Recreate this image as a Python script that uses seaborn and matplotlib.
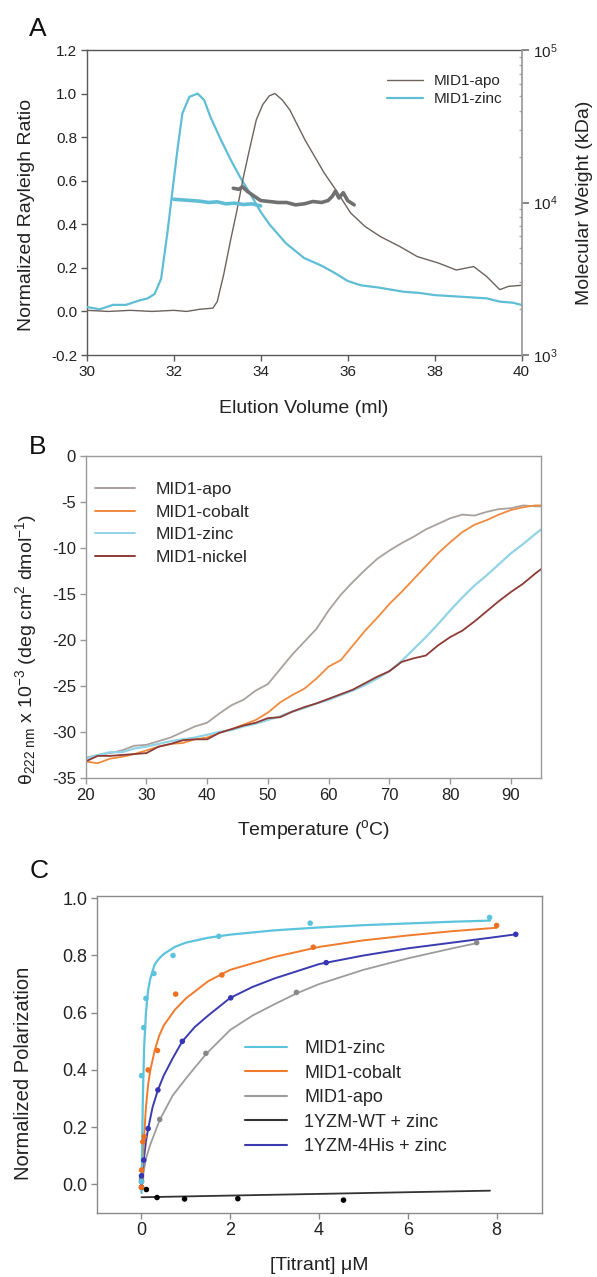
import numpy as np
import pandas as pd
import matplotlib
matplotlib.use("Agg")
import matplotlib.pyplot as plt
import seaborn as sns
from matplotlib.ticker import LogLocator, FixedLocator

# ---------------- Panel A data (SEC-MALS) ----------------
vol_zinc = [30.0, 30.3, 30.6, 30.9, 31.2, 31.4, 31.56, 31.71, 31.86, 31.98, 32.09, 32.2,
            32.36, 32.55, 32.7, 32.85, 33.08, 33.3, 33.53, 33.76, 33.99, 34.2, 34.58, 35.0,
            35.4, 35.7, 36.0, 36.3, 36.7, 37.0, 37.3, 37.65, 38.0, 38.4, 38.8, 39.2, 39.5,
            39.8, 40.0]
ray_zinc = [0.02, 0.01, 0.03, 0.03, 0.05, 0.06, 0.08, 0.15, 0.37, 0.57, 0.75, 0.91,
            0.985, 1.0, 0.97, 0.89, 0.79, 0.70, 0.615, 0.54, 0.46, 0.40, 0.313, 0.245,
            0.21, 0.177, 0.14, 0.12, 0.11, 0.10, 0.09, 0.085, 0.075, 0.07, 0.065, 0.06, 0.045,
            0.04, 0.03]
vol_apo = [30.0, 30.5, 31.0, 31.5, 32.0, 32.3, 32.6, 32.9, 33.0, 33.15, 33.3, 33.45, 33.6,
           33.75, 33.9, 34.05, 34.2, 34.33, 34.5, 34.67, 35.02, 35.46, 35.72, 36.07, 36.4,
           36.75, 37.2, 37.6, 38.09, 38.5, 38.9, 39.2, 39.5, 39.7, 40.0]
ray_apo = [0.005, 0.0, 0.005, 0.0, 0.005, 0.0, 0.01, 0.015, 0.045, 0.17, 0.32, 0.46, 0.615,
           0.75, 0.88, 0.95, 0.99, 1.0, 0.97, 0.925, 0.787, 0.636, 0.56, 0.452, 0.39,
           0.344, 0.298, 0.252, 0.222, 0.19, 0.206, 0.16, 0.10, 0.115, 0.12]
vol_mw_zinc = [32.0, 32.2, 32.4, 32.6, 32.8, 33.0, 33.2, 33.4, 33.6, 33.8, 34.0]
mw_zinc = [10500, 10400, 10300, 10200, 10000, 10100, 9800, 9900, 9700, 9800, 9500]
vol_mw_apo = [33.37, 33.5, 33.58, 33.7, 33.85, 34.0, 34.2, 34.4, 34.6, 34.8, 35.0, 35.2,
              35.4, 35.55, 35.65, 35.72, 35.8, 35.9, 36.0, 36.15]
mw_apo = [12400, 12200, 12700, 11800, 11000, 10300, 10150, 10000, 10000, 9650, 9800, 10150,
          10000, 10300, 11000, 11900, 10700, 11600, 10300, 9650]

# ---------------- Panel B data (CD melts) ----------------
temps = [20, 22, 24, 26, 28, 30, 32, 34, 36, 38, 40, 42, 44, 46, 48, 50, 52, 54, 56, 58,
         60, 62, 64, 66, 68, 70, 72, 74, 76, 78, 80, 82, 84, 86, 88, 90, 92, 94, 95]
cd_apo = [-32.8, -32.5, -32.3, -32.0, -31.5, -31.4, -31.0, -30.6, -30.0, -29.4, -29.0, -28.0,
          -27.1, -26.5, -25.5, -24.8, -23.2, -21.6, -20.2, -18.8, -16.8, -15.1, -13.7, -12.4,
          -11.2, -10.3, -9.5, -8.8, -8.0, -7.4, -6.8, -6.4, -6.5, -6.1, -5.8, -5.7, -5.4,
          -5.5, -5.5]
cd_cobalt = [-33.2, -33.4, -32.9, -32.7, -32.4, -32.0, -31.6, -31.3, -31.2, -30.8, -30.6,
             -30.1, -29.7, -29.2, -28.7, -27.9, -26.8, -26.0, -25.3, -24.2, -22.9, -22.2,
             -20.6, -19.0, -17.6, -16.1, -14.8, -13.4, -12.0, -10.6, -9.4, -8.3, -7.5, -7.0,
             -6.4, -5.9, -5.6, -5.4, -5.4]
cd_zinc = [-32.9, -32.5, -32.2, -32.2, -31.8, -31.6, -31.3, -31.0, -30.8, -30.6, -30.3, -30.0,
           -29.8, -29.4, -29.1, -28.7, -28.3, -27.8, -27.4, -26.9, -26.5, -26.0, -25.5, -24.9,
           -24.2, -23.4, -22.3, -21.0, -19.7, -18.3, -16.8, -15.4, -14.1, -13.0, -11.8,
           -10.6, -9.6, -8.5, -8.0]
cd_nickel = [-33.2, -32.6, -32.6, -32.5, -32.4, -32.3, -31.6, -31.3, -30.9, -30.8, -30.8,
             -30.1, -29.7, -29.3, -29.0, -28.5, -28.4, -27.8, -27.3, -26.9, -26.4, -25.9,
             -25.4, -24.7, -24.0, -23.4, -22.4, -22.0, -21.7, -20.6, -19.7, -19.0, -18.0,
             -16.9, -15.8, -14.8, -13.9, -12.8, -12.3]

# ---------------- Panel C data (fluorescence polarization) ----------------
zinc_x = [0.0, 0.0, 0.05, 0.10, 0.28, 0.71, 1.74, 3.80, 7.84]
zinc_y = [0.01, 0.38, 0.548, 0.65, 0.737, 0.80, 0.867, 0.913, 0.933]
cobalt_x = [0.0, 0.0, 0.03, 0.06, 0.15, 0.36, 0.77, 1.81, 3.87, 8.0]
cobalt_y = [-0.01, 0.05, 0.149, 0.167, 0.40, 0.468, 0.665, 0.732, 0.829, 0.905]
apo_x = [0.0, 0.41, 1.45, 3.49, 7.55]
apo_y = [0.02, 0.227, 0.458, 0.671, 0.845]
wt_x = [0.0, 0.11, 0.35, 0.97, 2.17, 4.55]
wt_y = [-0.01, -0.018, -0.046, -0.051, -0.05, -0.055]
his_x = [0.0, 0.0, 0.05, 0.15, 0.37, 0.92, 2.01, 4.16, 8.43]
his_y = [0.01, 0.03, 0.085, 0.195, 0.33, 0.50, 0.652, 0.775, 0.874]

# fitted curves
fit_zinc_x = [0, 0.03, 0.06, 0.1, 0.15, 0.2, 0.3, 0.4, 0.5, 0.75, 1.0, 1.5, 2, 3, 4, 5, 6, 7, 7.85]
fit_zinc_y = [-0.03, 0.30, 0.48, 0.60, 0.68, 0.72, 0.77, 0.79, 0.805, 0.83, 0.845, 0.862,
              0.873, 0.888, 0.898, 0.906, 0.912, 0.918, 0.922]
fit_cobalt_x = [0, 0.03, 0.06, 0.1, 0.15, 0.2, 0.3, 0.4, 0.5, 0.75, 1.0, 1.5, 2, 3, 4, 5, 6, 7, 8]
fit_cobalt_y = [-0.02, 0.08, 0.17, 0.27, 0.35, 0.40, 0.47, 0.52, 0.555, 0.61, 0.65, 0.71,
                0.75, 0.795, 0.83, 0.853, 0.87, 0.885, 0.897]
fit_apo_x = [0, 0.1, 0.2, 0.41, 0.7, 1.0, 1.45, 2, 2.5, 3, 3.5, 4, 5, 6, 7, 7.55]
fit_apo_y = [0.0, 0.09, 0.14, 0.225, 0.31, 0.37, 0.455, 0.54, 0.59, 0.63, 0.668, 0.70,
             0.75, 0.79, 0.825, 0.843]
fit_wt_x = [0.0, 7.85]
fit_wt_y = [-0.045, -0.022]
fit_his_x = [0, 0.05, 0.1, 0.15, 0.25, 0.37, 0.5, 0.7, 0.92, 1.2, 1.5, 2.0, 2.5, 3, 4, 5, 6,
             7, 8, 8.43]
fit_his_y = [0.0, 0.085, 0.15, 0.195, 0.27, 0.33, 0.38, 0.44, 0.50, 0.55, 0.59, 0.652, 0.69,
             0.72, 0.77, 0.80, 0.825, 0.845, 0.865, 0.874]

# ---------------- style ----------------
sns.set_theme(style="white")
plt.rcParams['font.family'] = ['Liberation Sans', 'DejaVu Sans']
plt.rcParams['mathtext.fontset'] = 'custom'
plt.rcParams['mathtext.rm'] = 'Liberation Sans'
plt.rcParams['mathtext.it'] = 'Liberation Sans:italic'
plt.rcParams['axes.unicode_minus'] = False

fig = plt.figure(figsize=(5.97, 12.77), dpi=100)
W, H = 597.0, 1277.0


def add_axes_px(left, top, right, bottom):
    return fig.add_axes([left / W, 1 - bottom / H, (right - left) / W, (bottom - top) / H])


def line(ax, x, y, color, lw, label=None, zorder=2):
    sns.lineplot(x=x, y=y, ax=ax, color=color, linewidth=lw, label=label,
                 estimator=None, sort=False, legend=False, zorder=zorder)


def style_ax(ax, edge, ticksize):
    for s in ax.spines.values():
        s.set_color(edge)
        s.set_linewidth(1.0)
    ax.tick_params(axis='both', which='major', direction='out', length=4, width=1,
                   color=edge, labelsize=ticksize, labelcolor='#222222', pad=3,
                   left=True, bottom=True)


def center_label(lbl):
    lbl.set_verticalalignment('center')
    lbl.set_horizontalalignment('center')


# ---------------- Panel A ----------------
axA = add_axes_px(86.8, 50, 521.5, 355)
c_apoA, c_znA = '#6d625e', '#5fbdd6'
line(axA, vol_zinc, ray_zinc, c_znA, 1.6, 'MID1-zinc', zorder=3)
line(axA, vol_apo, ray_apo, c_apoA, 1.0, 'MID1-apo', zorder=3)
axA.set_xlim(30, 40)
axA.set_ylim(-0.2, 1.2)
axA.set_xticks([30, 32, 34, 36, 38, 40])
axA.set_yticks([-0.2, 0.0, 0.2, 0.4, 0.6, 0.8, 1.0, 1.2])
axA.set_yticklabels(['-0.2', '0.0', '0.2', '0.4', '0.6', '0.8', '1.0', '1.2'])
style_ax(axA, '#5a5a5a', 11)
axA.set_xlabel('Elution Volume (ml)', fontsize=14, color='#222222')
axA.set_ylabel('Normalized Rayleigh Ratio', fontsize=14, color='#222222')
center_label(axA.xaxis.label)
center_label(axA.yaxis.label)
axA.xaxis.set_label_coords(0.5, -0.174)
axA.yaxis.set_label_coords(-0.138, 0.46)

axA2 = axA.twinx()
line(axA2, vol_mw_zinc, mw_zinc, c_znA, 2.6, zorder=3)
line(axA2, vol_mw_apo, mw_apo, '#707070', 2.6, zorder=3)
axA2.set_yscale('log')
axA2.set_ylim(1e3, 1e5)
axA2.yaxis.set_major_locator(LogLocator(base=10, numticks=5))
axA2.yaxis.set_minor_locator(LogLocator(base=10, subs=np.arange(2, 10), numticks=20))
for s in axA2.spines.values():
    s.set_visible(False)
axA2.spines['right'].set_visible(True)
axA2.spines['right'].set_color('#9a9a9a')
axA2.tick_params(axis='y', which='major', direction='out', length=5, color='#777777',
                 labelsize=11, labelcolor='#222222', right=True, pad=3)
axA2.tick_params(axis='y', which='minor', direction='in', length=2.5, color='#aaaaaa',
                 right=True)
axA2.set_ylabel('Molecular Weight (kDa)', fontsize=14, color='#222222')
center_label(axA2.yaxis.label)
axA2.yaxis.label.set_rotation(90)
axA2.yaxis.set_label_coords(1.146, 0.5)
axA.spines['top'].set_color('#555555')
axA.spines['right'].set_visible(False)

hA = [plt.Line2D([], [], color=c_apoA, lw=1.0), plt.Line2D([], [], color=c_znA, lw=1.6)]
axA.legend(hA, ['MID1-apo', 'MID1-zinc'], loc='upper left', bbox_to_anchor=(0.69, 0.92),
           frameon=False, fontsize=11, handlelength=2.4, handletextpad=0.7,
           labelspacing=0.25, borderpad=0, borderaxespad=0)

fig.text(38 / W, 1 - 29 / H, 'A', fontsize=19, ha='center', va='center', color='#111111')

# ---------------- Panel B ----------------
axB = add_axes_px(85.6, 455.7, 541.3, 778)
cB = {'apo': '#a9a19d', 'cobalt': '#f08a3e', 'zinc': '#93d3e6', 'nickel': '#8e3b36'}
line(axB, temps, cd_apo, cB['apo'], 1.3)
line(axB, temps, cd_cobalt, cB['cobalt'], 1.3)
line(axB, temps, cd_zinc, cB['zinc'], 1.6)
line(axB, temps, cd_nickel, cB['nickel'], 1.3)
axB.set_xlim(20, 95)
axB.set_ylim(-35, 0)
axB.set_xticks([20, 30, 40, 50, 60, 70, 80, 90])
axB.set_yticks([-35, -30, -25, -20, -15, -10, -5, 0])
style_ax(axB, '#999999', 12)
axB.set_xlabel('Temperature ($^{\\mathrm{o}}$C)', fontsize=14, color='#222222')
axB.set_ylabel('θ$_{222\\ \\mathrm{nm}}$ x 10$^{-3}$ (deg cm$^{2}$ dmol$^{-1}$)',
               fontsize=14, color='#222222')
center_label(axB.xaxis.label)
center_label(axB.yaxis.label)
axB.xaxis.set_label_coords(0.5, -0.161)
axB.yaxis.set_label_coords(-0.131, 0.40)
hB = [plt.Line2D([], [], color=cB[k], lw=1.4) for k in ['apo', 'cobalt', 'zinc', 'nickel']]
axB.legend(hB, ['MID1-apo', 'MID1-cobalt', 'MID1-zinc', 'MID1-nickel'], loc='upper left',
           bbox_to_anchor=(0.021, 0.918), frameon=False, fontsize=12.5, handlelength=2.3,
           handletextpad=1.2, labelspacing=0.42, borderpad=0, borderaxespad=0)
fig.text(38 / W, 1 - 447 / H, 'B', fontsize=19, ha='center', va='center', color='#111111')

# ---------------- Panel C ----------------
axC = add_axes_px(97.1, 895.7, 542.4, 1212.7)
cC = {'zinc': '#5cc3dc', 'cobalt': '#f07b2c', 'apo': '#9c9c9c', 'wt': '#333333',
      'his': '#3b3bb0'}
line(axC, fit_apo_x, fit_apo_y, cC['apo'], 1.3)
line(axC, fit_wt_x, fit_wt_y, cC['wt'], 1.3)
line(axC, fit_his_x, fit_his_y, cC['his'], 1.4)
line(axC, fit_cobalt_x, fit_cobalt_y, cC['cobalt'], 1.4)
line(axC, fit_zinc_x, fit_zinc_y, cC['zinc'], 1.6)
for xs, ys, col in [(apo_x, apo_y, '#888888'), (wt_x, wt_y, '#000000'),
                    (his_x, his_y, '#3535b5'), (cobalt_x, cobalt_y, '#ee7022'),
                    (zinc_x, zinc_y, '#5cc3dc')]:
    sns.scatterplot(x=xs, y=ys, ax=axC, color=col, s=16, edgecolor='none', zorder=4,
                    legend=False)
axC.set_xlim(-1.0, 9.03)
axC.set_ylim(-0.099, 1.009)
axC.set_xticks([0, 2, 4, 6, 8])
axC.set_yticks([0.0, 0.2, 0.4, 0.6, 0.8, 1.0])
axC.set_yticklabels(['0.0', '0.2', '0.4', '0.6', '0.8', '1.0'])
style_ax(axC, '#8a8a8a', 13)
axC.set_xlabel('[Titrant] μM', fontsize=14, color='#222222')
axC.set_ylabel('Normalized Polarization', fontsize=14.5, color='#222222')
center_label(axC.xaxis.label)
center_label(axC.yaxis.label)
axC.xaxis.set_label_coords(0.5, -0.165)
axC.yaxis.set_label_coords(-0.166, 0.44)
hC = [plt.Line2D([], [], color=cC[k], lw=1.5) for k in ['zinc', 'cobalt', 'apo', 'wt', 'his']]
axC.legend(hC, ['MID1-zinc', 'MID1-cobalt', 'MID1-apo', '1YZM-WT + zinc',
                '1YZM-4His + zinc'], loc='upper left', bbox_to_anchor=(0.333, 0.545),
           frameon=False, fontsize=13, handlelength=2.3, handletextpad=0.95,
           labelspacing=0.42, borderpad=0, borderaxespad=0)
fig.text(39 / W, 1 - 871 / H, 'C', fontsize=19, ha='center', va='center', color='#111111')

fig.savefig('out.png', dpi=100, facecolor='white')
